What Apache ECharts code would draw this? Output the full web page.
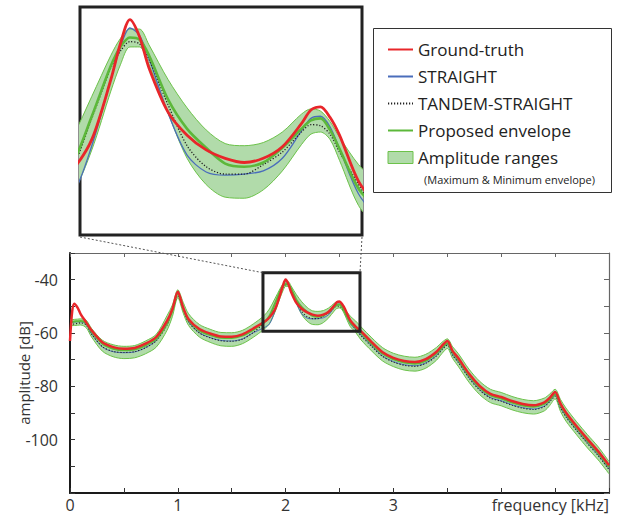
<!DOCTYPE html>
<html>
<head>
<meta charset="utf-8">
<script src="https://cdn.jsdelivr.net/npm/echarts@6/dist/echarts.min.js"></script>
<style>
html, body { margin: 0; padding: 0; background: #fff; }
#chart { width: 618px; height: 515px; }
</style>
</head>
<body>
<div id="chart"></div>
<script>
// frequency grid [kHz], denser around the zoomed formants
const freq = [
    0, 0.02, 0.04, 0.07, 0.1, 0.15, 0.2, 0.3, 0.4, 0.5,
    0.6, 0.7, 0.8, 0.9, 0.95, 1.0, 1.05, 1.1, 1.2, 1.3,
    1.4, 1.5, 1.6, 1.7, 1.8, 1.85, 1.9, 1.95, 1.975, 2.0,
    2.025, 2.05, 2.1, 2.15, 2.2, 2.25, 2.3, 2.35, 2.4, 2.45,
    2.475, 2.5, 2.525, 2.55, 2.6, 2.65, 2.7, 2.8, 2.9, 3.0,
    3.1, 3.2, 3.3, 3.4, 3.45, 3.5, 3.55, 3.6, 3.7, 3.8,
    3.9, 4.0, 4.1, 4.2, 4.3, 4.4, 4.45, 4.5, 4.55, 4.6,
    4.7, 4.8, 4.9, 5.0,
];

const groundTruth = [
    -63, -52, -49, -50.5, -53, -56, -59, -63.5, -65.3, -65.9,
    -65.6, -64, -61.5, -55.5, -51, -44.5, -50.5, -54.8, -58.5, -60.2,
    -61.3, -61.4, -60.5, -58.3, -55.9, -54.2, -51.3, -45.6, -42.2, -39.9,
    -41.5, -44.5, -48.7, -50.9, -52.3, -53.1, -53.5, -53.1, -52.0, -49.8,
    -48.5, -48.2, -49.2, -50.9, -55.3, -57.6, -59.4, -63.5, -67.2, -69.3,
    -70.5, -70.9, -69.8, -67.0, -64.8, -63.0, -66.8, -69.3, -75.2, -79.8,
    -82.8, -84.0, -85.5, -86.6, -87.1, -86.0, -84.3, -82.1, -86.5, -89.8,
    -95.0, -99.8, -104.4, -109.6,
];

const straight = [
    -56.0, -56.0, -55.9, -55.8, -55.8, -56.8, -60.3, -65.2, -67.0, -67.4,
    -67.1, -65.5, -62.8, -56.5, -51.2, -44.7, -51.0, -55.8, -59.9, -61.7,
    -62.8, -63.0, -62.2, -59.9, -58.0, -56.6, -51.9, -45.6, -42.5, -40.7,
    -41.4, -43.6, -48.8, -52.8, -54.4, -54.7, -54.6, -54.3, -53.1, -50.5,
    -49.3, -49.1, -50.1, -52.2, -56.5, -58.8, -60.8, -64.9, -68.6, -70.7,
    -71.9, -72.3, -71.2, -68.4, -66.1, -64.3, -68.2, -70.7, -76.6, -81.2,
    -84.2, -85.4, -86.9, -88.0, -88.5, -87.4, -85.6, -83.4, -87.9, -91.2,
    -96.4, -101.2, -105.8, -111.0,
];

const tandemStraight = [
    -56.7, -56.7, -56.6, -56.4, -56.2, -57.0, -60.4, -65.1, -66.9, -67.3,
    -67.0, -65.5, -62.9, -57.0, -52.0, -46.0, -51.3, -55.9, -60.0, -61.8,
    -62.9, -63.1, -62.3, -59.8, -56.3, -54.0, -49.3, -44.5, -42.9, -42.0,
    -42.2, -43.7, -48.0, -51.9, -53.9, -54.6, -54.6, -53.7, -52.5, -50.6,
    -49.9, -50.0, -50.8, -52.5, -55.6, -58.6, -61.0, -65.1, -68.8, -70.9,
    -72.1, -72.5, -71.4, -68.6, -66.3, -64.6, -68.4, -70.9, -76.8, -81.4,
    -84.4, -85.6, -87.1, -88.2, -88.7, -87.6, -85.8, -83.7, -88.1, -91.4,
    -96.6, -101.4, -106.0, -111.2,
];

const proposed = [
    -55.8, -55.8, -55.7, -55.6, -55.5, -56.3, -59.5, -64, -65.9, -66.5,
    -66.2, -64.7, -62.2, -56.5, -51.5, -45.3, -50.8, -55.2, -59.1, -60.8,
    -61.8, -61.9, -61.0, -58.8, -56.0, -53.6, -49.1, -44.3, -42.5, -41.6,
    -41.8, -43.3, -47.5, -50.3, -52.1, -53.6, -53.9, -53.5, -52.1, -50.3,
    -49.5, -49.3, -50.4, -52.2, -56.0, -58.0, -60.0, -64.1, -67.8, -69.9,
    -71.1, -71.5, -70.4, -67.6, -65.5, -63.8, -67.3, -69.9, -75.8, -80.4,
    -83.4, -84.6, -86.1, -87.2, -87.7, -86.6, -85.0, -83.0, -87.0, -90.4,
    -95.6, -100.4, -105.0, -110.2,
];

const envelopeMax = [
    -55.0, -55.0, -54.9, -54.8, -54.7, -55.2, -58.3, -62.7, -64.4, -65.0,
    -64.7, -63.0, -60.5, -53.5, -49.5, -43.8, -48.5, -52.8, -56.8, -58.6,
    -59.8, -59.9, -59.0, -56.6, -53.5, -51.0, -47.2, -43.3, -41.7, -40.8,
    -40.8, -42.3, -45.6, -48.3, -50.4, -51.7, -51.9, -51.6, -50.6, -48.9,
    -48.4, -48.6, -49.6, -51.1, -53.7, -55.5, -57.7, -61.8, -65.5, -67.6,
    -68.7, -69.1, -68.0, -65.4, -63.5, -62.2, -65.2, -67.6, -73.5, -78.1,
    -81.1, -82.3, -83.8, -84.9, -85.4, -84.4, -82.9, -81.1, -84.9, -88.1,
    -93.3, -98.1, -102.7, -108.2,
];

const envelopeMin = [
    -57.2, -57.2, -57.2, -57.1, -57.0, -58.0, -61.5, -66.8, -68.9, -69.6,
    -69.3, -67.8, -65.3, -59.0, -53.8, -46.8, -52.5, -57.2, -61.5, -63.5,
    -64.8, -65.0, -64.0, -61.6, -58.6, -56.5, -52.3, -46.7, -44.2, -42.5,
    -42.5, -44.2, -48.8, -53.1, -55.6, -56.8, -56.9, -56.1, -54.3, -51.8,
    -50.8, -50.6, -51.3, -53.3, -57.6, -59.8, -62.6, -66.8, -70.5, -72.6,
    -73.9, -74.3, -73.2, -70.2, -67.7, -65.8, -69.6, -72.4, -78.4, -83.1,
    -86.1, -87.3, -88.8, -89.9, -90.4, -89.2, -87.2, -84.7, -89.4, -93.0,
    -98.2, -103.1, -107.6, -112.8,
];

// zoomed region marked on the main plot, and the range shown in the inset
const zoomFreq = [1.79, 2.69];
const zoomAmp = [-59.3, -37.4];
const insetFreq = [1.869, 2.609];
const insetAmp = [-60.4, -38.7];

const FONT = '"Open Sans", "Noto Sans", sans-serif';
const RED = '#e8262a';
const BLUE = '#4a6dbb';
const DOT = '#222';
const GREEN = '#5cb83a';
const BAND_FILL = '#b1dbaa';
const BAND_EDGE = '#6cc24a';

const pairs = (vals) => freq.map((f, i) => [f, vals[i]]);
// amplitude first so that stacking runs along the amplitude dimension
const flipped = (vals) => freq.map((f, i) => [vals[i], f]);
const envelopeSpan = envelopeMax.map((v, i) => +(v - envelopeMin[i]).toFixed(2));

const curves = (axis, inset) => {
    const base = {
        type: 'line',
        xAxisIndex: axis,
        yAxisIndex: axis,
        symbol: 'none',
        smooth: 0.3,
        silent: true,
    };
    return [
        {
            ...base,
            name: 'Amplitude ranges',
            data: flipped(envelopeMin),
            encode: { x: 1, y: 0 },
            stack: 'band' + axis,
            stackStrategy: 'all',
            lineStyle: { color: BAND_EDGE, width: 1 },
            z: 1,
        },
        {
            ...base,
            name: 'Amplitude ranges',
            data: flipped(envelopeSpan),
            encode: { x: 1, y: 0 },
            stack: 'band' + axis,
            stackStrategy: 'all',
            areaStyle: { color: BAND_FILL, opacity: 1 },
            lineStyle: { color: BAND_EDGE, width: 1 },
            z: 1,
        },
        {
            ...base,
            name: 'STRAIGHT',
            data: pairs(straight),
            lineStyle: { color: BLUE, width: inset ? 1.3 : 1 },
            z: 2,
        },
        {
            ...base,
            name: 'TANDEM-STRAIGHT',
            data: pairs(tandemStraight),
            lineStyle: { color: DOT, width: inset ? 1.3 : 1.1, type: [1.2, 1.8] },
            z: 3,
        },
        {
            ...base,
            name: 'Proposed envelope',
            data: pairs(proposed),
            lineStyle: { color: GREEN, width: inset ? 2.6 : 2 },
            z: 4,
        },
        {
            ...base,
            name: 'Ground-truth',
            data: pairs(groundTruth),
            lineStyle: { color: RED, width: inset ? 2.8 : 2.5 },
            z: 5,
        },
    ];
};

const chart = echarts.init(document.getElementById('chart'), null, { renderer: 'svg' });

const option = {
    animation: false,
    backgroundColor: '#fff',
    textStyle: { fontFamily: FONT },
    grid: [
        { left: 70, top: 253, width: 539, height: 240, outerBoundsMode: 'none', containLabel: false },
        {
            left: 80, top: 7, width: 282, height: 228,
            outerBoundsMode: 'none', containLabel: false,
            show: true, backgroundColor: '#fff', borderColor: '#222', borderWidth: 3,
        },
    ],
    xAxis: [
        {
            gridIndex: 0,
            type: 'value',
            min: 0,
            max: 5,
            interval: 0.5,
            position: 'bottom',
            axisLine: { show: true, onZero: false, lineStyle: { color: '#1a1a1a', width: 2 } },
            axisTick: { show: true, inside: true, length: 5, lineStyle: { color: '#333', width: 1 } },
            axisLabel: {
                formatter: (v) => (Number.isInteger(v) && v < 4 ? String(v) : ''),
                margin: 4,
                fontSize: 16,
                lineHeight: 16,
                color: '#333',
                fontFamily: FONT,
            },
            splitLine: { show: false },
            name: 'frequency [kHz]',
            nameLocation: 'end',
            nameGap: 0,
            nameMoveOverlap: false,
            nameTextStyle: {
                align: 'right',
                verticalAlign: 'top',
                padding: [4, 0, 0, 0],
                fontSize: 16,
                lineHeight: 16,
                color: '#333',
                fontFamily: FONT,
            },
        },
        {
            gridIndex: 0,
            type: 'value',
            min: 0,
            max: 5,
            interval: 0.5,
            position: 'top',
            axisLine: { show: true, onZero: false, lineStyle: { color: '#666', width: 1.2 } },
            axisTick: { show: true, inside: true, length: 4, lineStyle: { color: '#666' } },
            axisLabel: { show: false },
            splitLine: { show: false },
        },
        { gridIndex: 1, type: 'value', min: insetFreq[0], max: insetFreq[1], show: false },
    ],
    yAxis: [
        {
            gridIndex: 0,
            type: 'value',
            min: -120,
            max: -30,
            interval: 10,
            position: 'left',
            axisLine: { show: true, onZero: false, lineStyle: { color: '#1a1a1a', width: 2 } },
            axisTick: { show: true, inside: true, length: 5, lineStyle: { color: '#333', width: 1 } },
            axisLabel: {
                formatter: (v) => (v % 20 === 0 && v > -120 && v < -30 ? String(v) : ''),
                margin: 12,
                fontSize: 16,
                color: '#333',
                fontFamily: FONT,
            },
            splitLine: { show: false },
            name: 'amplitude [dB]',
            nameLocation: 'middle',
            nameGap: 39,
            nameMoveOverlap: false,
            nameTextStyle: { fontSize: 15, color: '#333', fontFamily: FONT },
        },
        {
            gridIndex: 0,
            type: 'value',
            min: -120,
            max: -30,
            interval: 10,
            position: 'right',
            axisLine: { show: true, onZero: false, lineStyle: { color: '#666', width: 1.2 } },
            axisTick: { show: true, inside: true, length: 5, lineStyle: { color: '#666' } },
            axisLabel: { show: false },
            splitLine: { show: false },
        },
        { gridIndex: 1, type: 'value', min: insetAmp[0], max: insetAmp[1], show: false },
    ],
    legend: {
        orient: 'vertical',
        left: 373,
        top: 28,
        padding: [13, 10, 10, 14],
        itemGap: 10,
        itemWidth: 25,
        itemHeight: 12,
        selectedMode: false,
        itemStyle: { opacity: 0 },
        textStyle: { fontSize: 17, color: '#222', fontFamily: FONT },
        data: [
            { name: 'Ground-truth' },
            { name: 'STRAIGHT' },
            { name: 'TANDEM-STRAIGHT' },
            { name: 'Proposed envelope' },
            {
                name: 'Amplitude ranges',
                icon: 'rect',
                itemStyle: { opacity: 1, color: BAND_FILL, borderColor: BAND_EDGE, borderWidth: 1 },
            },
        ],
    },
    series: [
        ...curves(0, false),
        ...curves(2, true),
        {
            type: 'custom',
            name: 'zoom box',
            xAxisIndex: 0,
            yAxisIndex: 0,
            clip: false,
            silent: true,
            z: 10,
            data: [[zoomFreq[0], zoomFreq[1], zoomAmp[0], zoomAmp[1]]],
            encode: { x: [0, 1], y: [2, 3] },
            renderItem: (params, api) => {
                const p0 = api.coord([api.value(0), api.value(3)]);
                const p1 = api.coord([api.value(1), api.value(2)]);
                return {
                    type: 'rect',
                    shape: { x: p0[0], y: p0[1], width: p1[0] - p0[0], height: p1[1] - p0[1] },
                    style: { fill: 'none', stroke: '#222', lineWidth: 3 },
                };
            },
        },
    ],
};

chart.setOption(option);

// dotted connectors from the inset to the zoom box, plus legend frame and note
const main = { xAxisIndex: 0, yAxisIndex: 0 };
const ins = { xAxisIndex: 2, yAxisIndex: 2 };
const insetBL = chart.convertToPixel(ins, [insetFreq[0], insetAmp[0]]);
const insetBR = chart.convertToPixel(ins, [insetFreq[1], insetAmp[0]]);
const boxTL = chart.convertToPixel(main, [zoomFreq[0], zoomAmp[1]]);
const boxTR = chart.convertToPixel(main, [zoomFreq[1], zoomAmp[1]]);
const connector = (a, b) => ({
    type: 'line',
    silent: true,
    z: 20,
    shape: { x1: a[0], y1: a[1] + 2, x2: b[0], y2: b[1] },
    style: { stroke: '#555', lineWidth: 1, lineDash: [2, 2] },
});

chart.setOption({
    graphic: [
        connector(insetBL, boxTL),
        connector(insetBR, boxTR),
        {
            type: 'rect',
            silent: true,
            z: 20,
            shape: { x: 373.5, y: 28.5, width: 238, height: 164 },
            style: { fill: 'none', stroke: '#333', lineWidth: 1 },
        },
        {
            type: 'text',
            silent: true,
            z: 20,
            x: 424,
            y: 179,
            style: {
                text: '(Maximum & Minimum envelope)',
                fontSize: 11,
                fontFamily: FONT,
                fill: '#222',
                verticalAlign: 'middle',
            },
        },
    ],
});
</script>
</body>
</html>
